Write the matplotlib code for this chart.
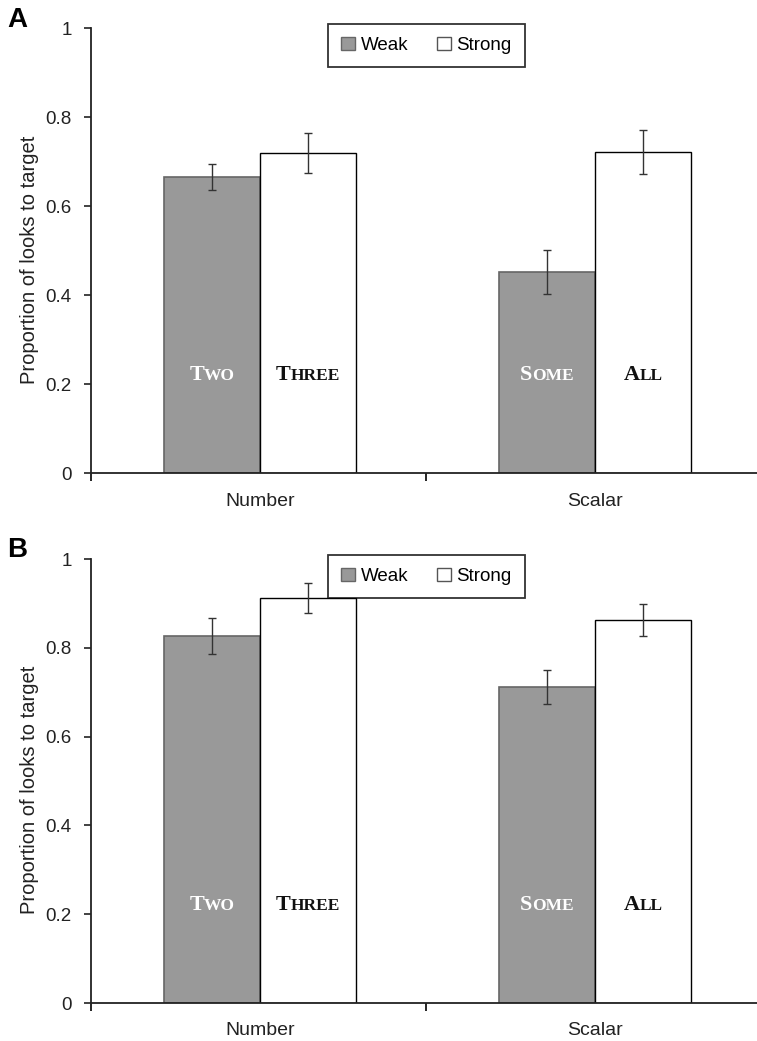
import matplotlib
matplotlib.use("Agg")
import matplotlib.pyplot as plt
from matplotlib.patches import Patch
from matplotlib.offsetbox import TextArea, HPacker, AnnotationBbox
import numpy as np

plt.rcParams['font.family'] = ['Liberation Sans', 'DejaVu Sans']

categories = ['Number', 'Scalar']
series_names = ['Weak', 'Strong']

# panel A
weak_a = [0.665, 0.452]
weak_a_err = [0.030, 0.050]
strong_a = [0.719, 0.721]
strong_a_err = [0.044, 0.050]

# panel B
weak_b = [0.827, 0.712]
weak_b_err = [0.040, 0.039]
strong_b = [0.912, 0.863]
strong_b_err = [0.033, 0.036]

# quantifier labels inside the bars (small caps: first letter, rest)
weak_words = [('T', 'WO'), ('S', 'OME')]
strong_words = [('T', 'HREE'), ('A', 'LL')]

GREY = '#999999'
GREY_EDGE = '#666666'


def small_caps(ax, x, y, word, color):
    big, small = word
    props_big = dict(family='Liberation Serif', weight='bold', size=16, color=color)
    props_small = dict(family='Liberation Serif', weight='bold', size=12.5, color=color)
    pack = HPacker(children=[TextArea(big, textprops=props_big),
                             TextArea(small, textprops=props_small)],
                   align='baseline', pad=0, sep=0)
    ab = AnnotationBbox(pack, (x, y), xycoords='data', frameon=False,
                        box_alignment=(0.5, 0.5))
    ax.add_artist(ab)


def panel(ax, weak, weak_err, strong, strong_err, letter, letter_y):
    x = np.arange(len(categories))
    w = 0.287
    ax.bar(x - w / 2, weak, w, color=GREY, edgecolor=GREY_EDGE, linewidth=1.2)
    ax.bar(x + w / 2, strong, w, color='white', edgecolor='black', linewidth=1.0)
    ax.errorbar(x - w / 2, weak, yerr=weak_err, fmt='none', ecolor='#333333',
                elinewidth=1.0, capsize=3, capthick=1.0)
    ax.errorbar(x + w / 2, strong, yerr=strong_err, fmt='none', ecolor='#333333',
                elinewidth=1.0, capsize=3, capthick=1.0)

    for i in range(len(categories)):
        small_caps(ax, x[i] - w / 2, 0.22, weak_words[i], 'white')
        small_caps(ax, x[i] + w / 2, 0.22, strong_words[i], '#111111')
        ax.text(x[i], -0.063, categories[i], ha='center', va='center', fontsize=14,
                color='#222222', transform=ax.get_xaxis_transform())

    ax.set_xlim(-0.505, 1.495)
    ax.set_ylim(0, 1)
    ax.set_yticks([0, 0.2, 0.4, 0.6, 0.8, 1.0])
    ax.set_yticklabels(['0', '0.2', '0.4', '0.6', '0.8', '1'])
    ax.set_xticks([-0.505, 0.495, 1.495])
    ax.set_xticklabels(['', '', ''])
    ax.tick_params(axis='y', direction='out', length=5, width=1.2, pad=9,
                   labelsize=13.5, colors='#222222')
    ax.tick_params(axis='x', direction='out', length=6, width=1.2)
    for s in ['top', 'right']:
        ax.spines[s].set_visible(False)
    for s in ['left', 'bottom']:
        ax.spines[s].set_linewidth(1.3)
        ax.spines[s].set_color('#222222')
    ax.set_ylabel('Proportion of looks to target', fontsize=14.5, color='#222222')
    ax.yaxis.set_label_coords(-0.078, 0.48)

    handles = [Patch(facecolor=GREY, edgecolor=GREY_EDGE, label=series_names[0]),
               Patch(facecolor='white', edgecolor='#555555', label=series_names[1])]
    leg = ax.legend(handles=handles, ncol=2, loc='upper left',
                    bbox_to_anchor=(0.354, 1.01), fontsize=13.5, frameon=True,
                    fancybox=False, edgecolor='black', handlelength=0.75,
                    handleheight=0.75, handletextpad=0.3, columnspacing=1.5,
                    borderpad=0.7, borderaxespad=0)
    leg.get_frame().set_linewidth(1.3)

    ax.figure.text(0.009, letter_y, letter, fontsize=20, fontweight='bold',
                   ha='left', va='top')


fig = plt.figure(figsize=(7.57, 10.41), dpi=100)
ax_a = fig.add_axes([0.1202, 0.5456, 0.885, 0.4275])
ax_b = fig.add_axes([0.1202, 0.0365, 0.885, 0.4265])

panel(ax_a, weak_a, weak_a_err, strong_a, strong_a_err, 'A', 1 - 7 / 1041)
panel(ax_b, weak_b, weak_b_err, strong_b, strong_b_err, 'B', 1 - 537 / 1041)

fig.savefig('out.png', dpi=100)
